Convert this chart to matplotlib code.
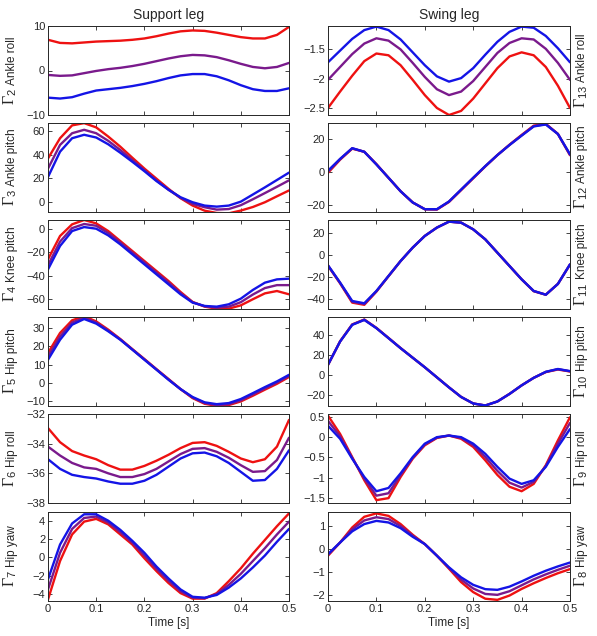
import numpy as np
import matplotlib.pyplot as plt
from matplotlib.ticker import FuncFormatter

plt.rcParams['font.family'] = ['Liberation Sans', 'DejaVu Sans']
plt.rcParams['mathtext.fontset'] = 'custom'
plt.rcParams['mathtext.rm'] = 'Liberation Serif'
plt.rcParams['mathtext.sf'] = 'Liberation Sans'

# time grid [s]
t = [0.0, 0.025, 0.05, 0.075, 0.1, 0.125, 0.15, 0.175, 0.2, 0.225, 0.25,
     0.275, 0.3, 0.325, 0.35, 0.375, 0.4, 0.425, 0.45, 0.475, 0.5]

# ---- support leg (red / purple / blue) ----
sup_ankle_roll_r = [6.9, 6.2, 6.1, 6.3, 6.5, 6.6, 6.7, 6.9, 7.2, 7.7, 8.3, 8.8, 9.0, 8.9, 8.5, 8.0, 7.5, 7.2, 7.2, 8.0, 9.8]
sup_ankle_roll_p = [-1.0, -1.2, -1.1, -0.6, -0.1, 0.3, 0.6, 1.0, 1.5, 2.1, 2.7, 3.2, 3.5, 3.4, 3.0, 2.3, 1.5, 0.8, 0.5, 0.8, 1.7]
sup_ankle_roll_b = [-6.1, -6.3, -6.0, -5.2, -4.5, -4.2, -3.9, -3.5, -3.0, -2.4, -1.7, -1.1, -0.8, -0.8, -1.3, -2.2, -3.3, -4.2, -4.6, -4.6, -4.0]

sup_ankle_pitch_r = [36.8, 53.8, 64.6, 66.5, 62.9, 55.2, 46.7, 37.4, 28.3, 19.8, 11.3, 3.4, -2.8, -7.1, -9.0, -9.3, -7.0, -4.0, 0.0, 5.0, 9.9]
sup_ankle_pitch_p = [28.3, 48.2, 58.0, 60.9, 58.0, 51.6, 43.9, 35.4, 26.9, 18.4, 10.5, 3.7, -1.4, -4.2, -6.2, -5.7, -2.5, 2.5, 7.7, 13.0, 18.4]
sup_ankle_pitch_b = [21.2, 42.5, 53.8, 56.7, 54.4, 48.7, 41.6, 34.0, 26.1, 17.8, 10.5, 4.2, 0.0, -2.8, -3.7, -2.8, 0.5, 6.5, 12.5, 18.7, 24.9]

sup_knee_pitch_r = [-26.0, -6.2, 3.7, 7.4, 4.5, -2.0, -10.5, -19.0, -27.5, -36.0, -44.5, -53.8, -62.3, -66.3, -68.0, -68.0, -65.2, -60.0, -55.0, -53.0, -55.8]
sup_knee_pitch_p = [-31.0, -11.0, 0.5, 4.0, 2.5, -3.7, -11.8, -20.3, -28.8, -37.3, -45.8, -54.8, -62.5, -66.0, -67.2, -66.3, -62.5, -56.0, -50.5, -48.0, -48.0]
sup_knee_pitch_b = [-34.6, -14.7, -2.0, 1.4, 0.0, -5.7, -13.3, -21.8, -30.3, -38.8, -47.3, -55.8, -62.9, -65.7, -66.3, -64.3, -59.5, -52.1, -45.9, -43.1, -42.5]

sup_hip_pitch_r = [16.4, 27.3, 34.2, 36.4, 33.6, 29.1, 24.0, 18.5, 13.1, 7.6, 2.2, -3.3, -8.2, -11.3, -12.4, -12.0, -10.0, -6.9, -3.6, -0.4, 3.3]
sup_hip_pitch_p = [14.5, 25.4, 33.0, 35.6, 33.0, 28.6, 23.8, 18.3, 12.9, 7.4, 2.0, -3.3, -7.9, -10.9, -12.0, -11.5, -9.4, -6.2, -2.9, 0.3, 3.9]
sup_hip_pitch_b = [12.7, 23.6, 31.8, 34.9, 32.4, 28.2, 23.6, 18.2, 12.7, 7.3, 1.8, -3.3, -7.6, -10.5, -11.5, -10.9, -8.7, -5.5, -2.2, 0.9, 4.5]

sup_hip_roll_r = [-32.95, -33.9, -34.5, -34.8, -35.05, -35.45, -35.75, -35.75, -35.5, -35.15, -34.75, -34.3, -33.95, -33.9, -34.15, -34.55, -35.0, -35.25, -35.05, -34.2, -32.4]
sup_hip_roll_p = [-34.2, -34.8, -35.3, -35.6, -35.7, -36.0, -36.25, -36.25, -36.05, -35.7, -35.2, -34.7, -34.35, -34.3, -34.55, -34.95, -35.45, -35.9, -35.85, -35.1, -33.6]
sup_hip_roll_b = [-35.05, -35.7, -36.1, -36.25, -36.35, -36.55, -36.7, -36.7, -36.5, -36.1, -35.55, -35.0, -34.65, -34.6, -34.85, -35.3, -35.9, -36.5, -36.45, -35.7, -34.45]

sup_hip_yaw_r = [-4.6, -0.4, 2.5, 3.9, 4.2, 3.6, 2.5, 1.4, -0.1, -1.5, -2.8, -3.9, -4.5, -4.5, -3.9, -2.6, -1.2, 0.4, 1.9, 3.4, 4.8]
sup_hip_yaw_p = [-3.5, 0.5, 3.1, 4.3, 4.45, 3.8, 2.75, 1.6, 0.2, -1.25, -2.55, -3.7, -4.4, -4.45, -4.0, -3.0, -1.8, -0.4, 1.0, 2.5, 3.9]
sup_hip_yaw_b = [-2.4, 1.4, 3.7, 4.7, 4.7, 4.0, 3.0, 1.8, 0.5, -1.0, -2.3, -3.5, -4.3, -4.4, -4.1, -3.3, -2.3, -1.1, 0.2, 1.7, 3.1]

# ---- swing leg ----
sw_ankle_roll_r = [-2.5, -2.22, -1.95, -1.7, -1.57, -1.6, -1.77, -2.02, -2.28, -2.5, -2.62, -2.55, -2.34, -2.08, -1.82, -1.62, -1.55, -1.6, -1.8, -2.12, -2.5]
sw_ankle_roll_p = [-2.02, -1.8, -1.58, -1.4, -1.31, -1.35, -1.5, -1.73, -1.97, -2.18, -2.28, -2.22, -2.04, -1.8, -1.56, -1.39, -1.31, -1.33, -1.49, -1.73, -2.02]
sw_ankle_roll_b = [-1.72, -1.52, -1.32, -1.17, -1.11, -1.17, -1.33, -1.55, -1.77, -1.96, -2.05, -1.99, -1.82, -1.59, -1.37, -1.2, -1.11, -1.13, -1.27, -1.48, -1.72]

sw_ankle_pitch_r = [-0.5, 7.5, 14.2, 12.3, 4.8, -3.5, -11.7, -18.5, -22.6, -22.8, -18.2, -11.0, -3.8, 3.4, 10.3, 16.6, 22.5, 28.2, 29.3, 23.2, 10.2]
sw_ankle_pitch_p = [0.3, 7.8, 14.4, 12.3, 4.7, -3.5, -11.7, -18.5, -22.6, -22.7, -18.0, -10.8, -3.6, 3.5, 10.3, 16.5, 22.3, 27.9, 29.1, 23.1, 10.5]
sw_ankle_pitch_b = [0.8, 8.0, 14.5, 12.3, 4.6, -3.5, -11.7, -18.5, -22.6, -22.6, -17.9, -10.7, -3.5, 3.6, 10.3, 16.4, 22.1, 27.7, 28.9, 23.1, 10.8]

sw_knee_pitch_r = [-9.5, -25.5, -43.0, -45.0, -33.0, -19.0, -5.2, 7.0, 17.6, 25.2, 30.6, 29.7, 23.6, 14.5, 2.4, -9.7, -21.8, -32.6, -35.8, -26.0, -8.4]
sw_knee_pitch_p = [-9.3, -25.1, -42.2, -44.2, -32.7, -18.9, -5.2, 7.0, 17.6, 25.2, 30.6, 29.7, 23.6, 14.5, 2.4, -9.7, -21.8, -32.5, -35.8, -26.0, -8.3]
sw_knee_pitch_b = [-9.1, -24.8, -41.5, -43.6, -32.4, -18.8, -5.2, 7.0, 17.6, 25.2, 30.6, 29.7, 23.6, 14.5, 2.4, -9.7, -21.8, -32.4, -35.8, -26.0, -8.2]

sw_hip_pitch_r = [10.4, 33.8, 50.6, 55.5, 47.2, 37.2, 27.1, 17.5, 8.0, -2.0, -12.0, -21.5, -28.0, -30.0, -26.0, -18.5, -10.0, -2.5, 3.2, 5.8, 3.8]
sw_hip_pitch_p = [10.5, 33.7, 50.4, 55.3, 47.0, 37.0, 27.0, 17.5, 8.0, -2.0, -12.0, -21.5, -28.0, -30.0, -26.0, -18.5, -10.0, -2.5, 3.4, 6.1, 4.0]
sw_hip_pitch_b = [10.6, 33.6, 50.2, 55.1, 46.9, 37.0, 27.0, 17.5, 8.0, -2.0, -12.0, -21.5, -28.0, -30.0, -26.0, -18.5, -10.0, -2.5, 3.5, 6.3, 4.2]

sw_hip_roll_r = [0.53, 0.08, -0.49, -1.06, -1.55, -1.5, -0.98, -0.53, -0.2, -0.02, 0.04, -0.04, -0.24, -0.57, -0.93, -1.22, -1.33, -1.15, -0.69, -0.08, 0.49]
sw_hip_roll_p = [0.4, 0.02, -0.51, -1.02, -1.44, -1.38, -0.93, -0.51, -0.18, -0.01, 0.04, -0.02, -0.2, -0.49, -0.83, -1.12, -1.24, -1.1, -0.71, -0.16, 0.35]
sw_hip_roll_b = [0.28, -0.04, -0.53, -0.98, -1.33, -1.25, -0.89, -0.49, -0.16, 0.0, 0.04, 0.0, -0.16, -0.41, -0.73, -1.02, -1.15, -1.06, -0.73, -0.24, 0.2]

sw_hip_yaw_r = [-0.29, 0.29, 0.95, 1.42, 1.57, 1.46, 1.1, 0.63, 0.22, -0.29, -0.86, -1.45, -1.89, -2.18, -2.23, -2.04, -1.75, -1.5, -1.27, -1.06, -0.88]
sw_hip_yaw_p = [-0.25, 0.29, 0.87, 1.26, 1.4, 1.32, 1.01, 0.59, 0.22, -0.29, -0.83, -1.34, -1.73, -1.97, -2.01, -1.85, -1.59, -1.33, -1.11, -0.91, -0.73]
sw_hip_yaw_b = [-0.22, 0.29, 0.78, 1.1, 1.24, 1.17, 0.92, 0.54, 0.22, -0.29, -0.8, -1.24, -1.57, -1.76, -1.79, -1.65, -1.42, -1.17, -0.95, -0.76, -0.59]

# labels, limits, ticks per row
sup_labels = [(2, 'Ankle roll'), (3, 'Ankle pitch'), (4, 'Knee pitch'),
              (5, 'Hip pitch'), (6, 'Hip roll'), (7, 'Hip yaw')]
sw_labels = [(13, 'Ankle roll'), (12, 'Ankle pitch'), (11, 'Knee pitch'),
             (10, 'Hip pitch'), (9, 'Hip roll'), (8, 'Hip yaw')]

sup_data = [
    (sup_ankle_roll_r, sup_ankle_roll_p, sup_ankle_roll_b),
    (sup_ankle_pitch_r, sup_ankle_pitch_p, sup_ankle_pitch_b),
    (sup_knee_pitch_r, sup_knee_pitch_p, sup_knee_pitch_b),
    (sup_hip_pitch_r, sup_hip_pitch_p, sup_hip_pitch_b),
    (sup_hip_roll_r, sup_hip_roll_p, sup_hip_roll_b),
    (sup_hip_yaw_r, sup_hip_yaw_p, sup_hip_yaw_b),
]
sw_data = [
    (sw_ankle_roll_r, sw_ankle_roll_p, sw_ankle_roll_b),
    (sw_ankle_pitch_r, sw_ankle_pitch_p, sw_ankle_pitch_b),
    (sw_knee_pitch_r, sw_knee_pitch_p, sw_knee_pitch_b),
    (sw_hip_pitch_r, sw_hip_pitch_p, sw_hip_pitch_b),
    (sw_hip_roll_r, sw_hip_roll_p, sw_hip_roll_b),
    (sw_hip_yaw_r, sw_hip_yaw_p, sw_hip_yaw_b),
]

sup_ylims = [(-10, 10), (-8.2, 66.6), (-68.3, 7.4), (-12.5, 36), (-38, -32), (-4.76, 4.95)]
sup_yticks = [[-10, 0, 10], [0, 20, 40, 60], [-60, -40, -20, 0], [-10, 0, 10, 20, 30],
              [-38, -36, -34, -32], [-4, -2, 0, 2, 4]]
sw_ylims = [(-2.62, -1.1), (-24.3, 29.8), (-48.8, 32.1), (-30.5, 58), (-1.62, 0.57), (-2.28, 1.63)]
sw_yticks = [[-2.5, -2, -1.5], [-20, 0, 20], [-40, -20, 0, 20], [-20, 0, 20, 40],
             [-1.5, -1, -0.5, 0, 0.5], [-2, -1, 0, 1]]

xticks = [0, 0.1, 0.2, 0.3, 0.4, 0.5]
colors = ['#ee1111', '#7a1a8c', '#1414e6']
txt_color = '#262626'

W, H = 597, 636
fig = plt.figure(figsize=(W / 100, H / 100), dpi=100)

row_tops = [26, 123, 220, 317, 414, 512]
row_h = 89
col_x = [48, 328]
col_w = [241, 242]
label_base_x = [-0.139, 1.062]   # baseline of rotated y labels (axes coords)

fmt = FuncFormatter(lambda v, p: ('%g' % v).replace('-', '\u2212'))

ylabel_parts = []
for col in range(2):
    data = sup_data if col == 0 else sw_data
    labels = sup_labels if col == 0 else sw_labels
    ylims = sup_ylims if col == 0 else sw_ylims
    yticks = sup_yticks if col == 0 else sw_yticks
    for row in range(6):
        rect = [col_x[col] / W, 1 - (row_tops[row] + row_h) / H, col_w[col] / W, row_h / H]
        ax = fig.add_axes(rect)
        for series, c in zip(data[row], colors):
            ax.plot(t, series, color=c, lw=1.7, solid_capstyle='round',
                    solid_joinstyle='round')
        ax.set_xlim(0, 0.5)
        ax.set_ylim(*ylims[row])
        ax.set_xticks(xticks)
        ax.set_yticks(yticks[row])
        ax.yaxis.set_major_formatter(fmt)
        ax.xaxis.set_major_formatter(fmt)
        ax.tick_params(direction='in', top=True, right=True, length=3, width=0.6,
                       labelsize=8, colors=txt_color, pad=2)
        for sp in ax.spines.values():
            sp.set_linewidth(0.7)
            sp.set_color(txt_color)
        if row < 5:
            ax.tick_params(labelbottom=False)
        else:
            ax.set_xlabel('Time [s]', fontsize=8.5, color=txt_color, labelpad=2)

        # y label: big serif Gamma with index, then the joint name
        num, name = labels[row]
        kw = dict(transform=ax.transAxes, rotation=90, rotation_mode='anchor',
                  ha='left', va='baseline', color=txt_color)
        g = ax.text(label_base_x[col], 0.5, r'$\Gamma_{\mathsf{%d}}$' % num, fontsize=11.5, **kw)
        n = ax.text(label_base_x[col], 0.5, name, fontsize=8.5, **kw)
        ylabel_parts.append((ax, g, n))

        if row == 0:
            ax.set_title('Support leg' if col == 0 else 'Swing leg', fontsize=10,
                         color=txt_color, pad=5)

# centre each composite y label on its axes
fig.canvas.draw()
renderer = fig.canvas.get_renderer()
gap = 3
for ax, g, n in ylabel_parts:
    hg = g.get_window_extent(renderer).height
    hn = n.get_window_extent(renderer).height
    total = hg + gap + hn
    yc = ax.transAxes.transform((0, 0.5))[1]
    inv = ax.transAxes.inverted()
    y0 = inv.transform((0, yc - total / 2))[1]
    y1 = inv.transform((0, yc - total / 2 + hg + gap))[1]
    g.set_y(y0)
    n.set_y(y1)

fig.savefig('out.png', dpi=100)
